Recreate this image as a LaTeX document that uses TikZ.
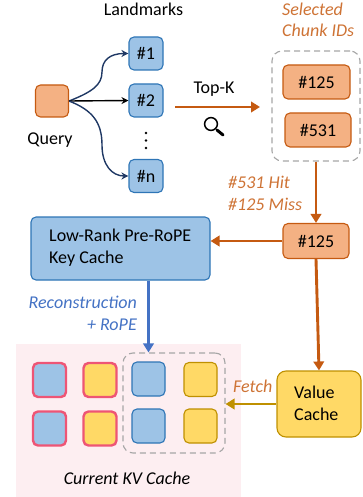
\documentclass[tikz,border=0pt]{standalone}
\usepackage{fontspec}
\setmainfont{Carlito}
\usetikzlibrary{arrows.meta}
\definecolor{orangeline}{HTML}{C55A11}
\definecolor{orangefill}{HTML}{F4B183}
\definecolor{bluefill}{HTML}{9DC3E6}
\definecolor{blueline}{HTML}{2E75B6}
\definecolor{arrowblue}{HTML}{4472C4}
\definecolor{navyline}{HTML}{1F3864}
\definecolor{yellowfill}{HTML}{FFD966}
\definecolor{yellowline}{HTML}{BF9000}
\definecolor{pinkbg}{HTML}{FDEEF1}
\definecolor{redline}{HTML}{EE5575}
\definecolor{dashgrey}{HTML}{A6A6A6}
\newcommand{\txtsize}{\fontsize{18}{22}\selectfont}
\tikzset{
  box/.style={rounded corners=5pt,line width=1.1pt,inner sep=0pt,font=\txtsize},
  bbox/.style={box,draw=blueline,fill=bluefill},
  obox/.style={box,draw=orangeline,fill=orangefill},
  ybox/.style={box,draw=yellowline,fill=yellowfill},
  rbbox/.style={box,draw=redline,fill=bluefill,line width=2.4pt,minimum width=33pt,minimum height=34pt},
  rybox/.style={box,draw=redline,fill=yellowfill,line width=2.4pt,minimum width=33pt,minimum height=34pt},
  landmark/.style={bbox,minimum width=34pt,minimum height=33pt},
  cell/.style={minimum width=33pt,minimum height=34pt},
  label/.style={inner sep=0pt,font=\txtsize},
  olabel/.style={label,text=orangeline!85!white,font=\txtsize\itshape},
  dashbox/.style={draw=dashgrey,line width=1.1pt,dash pattern=on 6pt off 4pt,rounded corners=10pt,inner sep=0pt},
  navyarrow/.style={draw=navyline,line width=1.4pt,-{Stealth[length=7pt,width=7pt]}},
  blackarrow/.style={draw=black,line width=1.4pt,-{Stealth[length=7pt,width=7pt]}},
  bigarrow/.style={line width=2.9pt,-{Triangle[length=9pt,width=10.5pt]}},
}
\begin{document}
\begin{tikzpicture}[x=1pt,y=-1pt]
\useasboundingbox (0,0) rectangle (363,497);
\node[fill=pinkbg,inner sep=0pt,minimum width=225pt,minimum height=153pt] (bg) at (128.5,420.5) {};
\node[label] (lm) at (143.5,9) {Landmarks};
\node[obox,minimum width=33pt,minimum height=32pt] (q) at (52,101) {};
\node[label] (ql) at (50,140) {Query};
\node[landmark] (a1) at (146,53.5) {\#1};
\node[landmark] (a2) at (146,100.5) {\#2};
\node[landmark] (an) at (146,176) {\#n};
\fill (146,133) circle (1.3pt) (146,140.5) circle (1.3pt) (146,148) circle (1.3pt);
\draw[navyarrow] (q.east) .. controls (92,92) and (102,85) .. (102,72) .. controls (102,60) and (110,53.5) .. (a1.west);
\draw[blackarrow] (q.east) -- (a2.west);
\draw[navyarrow] (q.east) .. controls (92,110) and (102,122) .. (102,145) .. controls (102,165) and (112,176) .. (an.west);
\node[label] (tk) at (214,89) {Top-K};
\coordinate (tkstart) at (175,107);
\node[dashbox,minimum width=88pt,minimum height=110pt] (sel) at (316,106) {};
\coordinate (tkend) at (260,107);
\draw[bigarrow,draw=orangeline] (tkstart) -- (tkend);
\draw[line width=1.5pt] (211,124) circle (6.4pt);
\draw[line width=3pt,line cap=round] (217,130) -- (223,135);
\node[olabel,anchor=west] (s1) at (282,9) {Selected};
\node[olabel,anchor=west] (s2) at (282,30) {Chunk IDs};
\node[obox,minimum width=67pt,minimum height=34pt] (c1) at (316.5,82) {\#125};
\node[obox,minimum width=66pt,minimum height=34pt] (c2) at (318,130) {\#531};
\node[obox,minimum width=66pt,minimum height=35pt] (c3) at (316,241) {\#125};
\node[olabel,anchor=west] (h) at (228,182) {\#531 Hit};
\node[olabel,anchor=west] (m) at (228,204) {\#125 Miss};
\draw[bigarrow,draw=orangeline] (sel.south) -- (c3.north);
\node[bbox,minimum width=179pt,minimum height=63pt] (key) at (120.5,248.5) {};
\node[label,anchor=west,align=left] (kt) at (49,248) {Low-Rank Pre-RoPE\\Key Cache};
\draw[bigarrow,draw=orangeline] (c3.west) -- (c3.west -| key.east);
\node[label,text=arrowblue,font=\txtsize\itshape,anchor=east,align=right] (rc) at (137,313) {Reconstruction\\+ RoPE};
\node[rbbox] (r1) at (49.5,380) {};
\node[rybox] (r2) at (100,380) {};
\node[rbbox] (r3) at (49.5,428.5) {};
\node[rybox] (r4) at (100,428.5) {};
\node[dashbox,minimum width=102pt,minimum height=100pt] (win) at (174,403) {};
\node[bbox,cell] (k1) at (148.5,379) {};
\node[bbox,cell] (k2) at (148.5,426) {};
\node[ybox,cell] (v1) at (200.5,379.5) {};
\node[ybox,cell] (v2) at (200.5,426) {};
\draw[bigarrow,draw=arrowblue] (k1.north |- key.south) -- (k1.north |- win.north);
\node[label,font=\txtsize\itshape] (ct) at (127,478) {Current KV Cache};
\node[ybox,rounded corners=9pt,minimum width=84pt,minimum height=66pt] (val) at (319,404) {};
\node[label,anchor=west,align=left] (vt) at (294,403) {Value\\Cache};
\draw[bigarrow,draw=orangeline] (c3.south) -- (val.north);
\draw[bigarrow,draw=yellowline] (val.west) -- (win.east |- val.west);
\node[olabel,anchor=west] (f) at (233,386) {Fetch};
\end{tikzpicture}
\end{document}
